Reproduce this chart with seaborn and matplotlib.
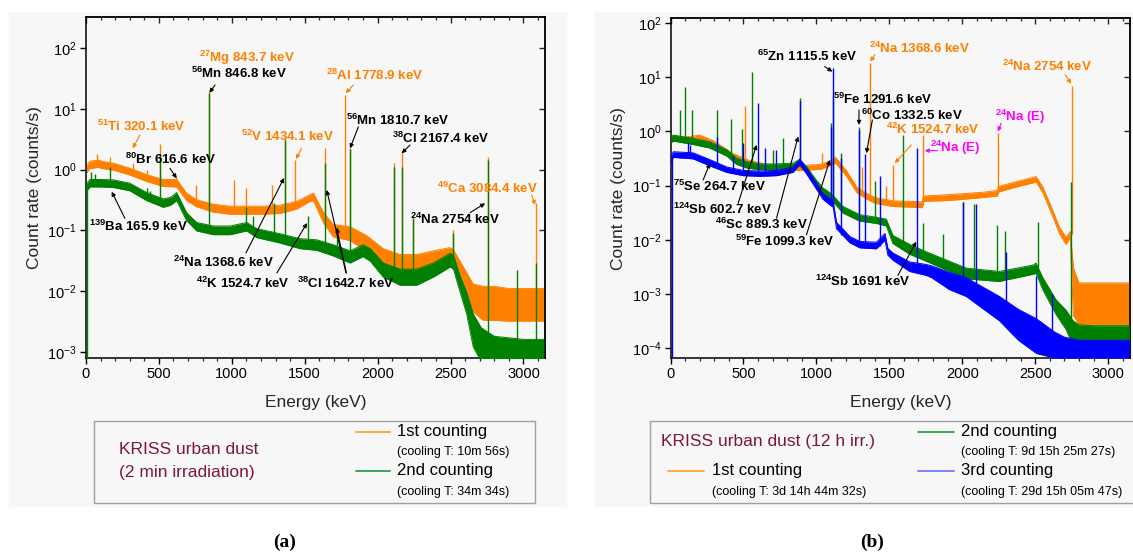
import numpy as np
import matplotlib
matplotlib.use("Agg")
import matplotlib.pyplot as plt
from matplotlib.ticker import MultipleLocator, LogLocator, NullLocator, NullFormatter
from matplotlib.patches import Rectangle
from matplotlib.lines import Line2D
import seaborn as sns

sns.set_theme(style="ticks")
plt.rcParams["font.family"] = ["Liberation Sans", "DejaVu Sans"]
plt.rcParams["mathtext.fontset"] = "custom"
plt.rcParams["mathtext.rm"] = "Liberation Sans"
plt.rcParams["mathtext.bf"] = "Liberation Sans:bold"
plt.rcParams["mathtext.it"] = "Liberation Sans:italic"

ORANGE = "#ff8000"
GREEN = "#008000"
BLUE = "#0000ff"
MAGENTA = "#ff00ff"
MAROON = "#7f1640"

# ----------------------------------------------------------------------
# (a) 2 min irradiation — continuum envelopes (lo / hi) and peaks
# ----------------------------------------------------------------------
E_a1 = [3, 25, 80, 150, 190, 300, 416, 530, 622, 690, 759, 873, 988, 1102, 1216, 1331,
        1445, 1536, 1560, 1627, 1696, 1811, 1925, 2039, 2154, 2268, 2382, 2497, 2520,
        2565, 2656, 2725, 2800, 2900, 3000, 3100, 3140]
lo_a1 = [0.88, 1.04, 1.09, 1.01, 0.98, 0.82, 0.64, 0.53, 0.52, 0.31, 0.245, 0.2, 0.185,
         0.185, 0.185, 0.19, 0.225, 0.3, 0.31, 0.135, 0.078, 0.068, 0.045, 0.027, 0.02,
         0.02, 0.022, 0.026, 0.025, 0.0125, 0.0045, 0.0033, 0.0033, 0.0032, 0.0032,
         0.0032, 0.0032]
hi_a1 = [1.15, 1.38, 1.43, 1.32, 1.28, 1.06, 0.83, 0.69, 0.69, 0.41, 0.32, 0.27, 0.25,
         0.25, 0.25, 0.26, 0.3, 0.39, 0.41, 0.2, 0.125, 0.115, 0.082, 0.05, 0.04, 0.04,
         0.046, 0.052, 0.048, 0.031, 0.013, 0.012, 0.012, 0.011, 0.011, 0.011, 0.011]

E_a2 = [3, 27, 100, 187, 300, 416, 530, 580, 622, 690, 759, 873, 988, 1102, 1171, 1331,
        1468, 1582, 1696, 1811, 1900, 1950, 2039, 2154, 2268, 2382, 2497, 2520, 2565,
        2611, 2656, 2710, 2800, 2900, 3000, 3100, 3140]
lo_a2 = [0.44, 0.52, 0.52, 0.51, 0.45, 0.31, 0.24, 0.26, 0.31, 0.145, 0.098, 0.085,
         0.085, 0.098, 0.076, 0.062, 0.05, 0.047, 0.038, 0.029, 0.037, 0.031, 0.017,
         0.0125, 0.0125, 0.017, 0.025, 0.023, 0.0098, 0.0042, 0.0012, 0.0007, 0.0007,
         0.0007, 0.0007, 0.0007, 0.0007]
hi_a2 = [0.58, 0.69, 0.69, 0.68, 0.6, 0.42, 0.33, 0.35, 0.42, 0.195, 0.135, 0.118, 0.118,
         0.135, 0.107, 0.088, 0.073, 0.07, 0.058, 0.046, 0.058, 0.05, 0.029, 0.023, 0.023,
         0.029, 0.042, 0.039, 0.018, 0.0095, 0.0042, 0.0025, 0.0018, 0.0017, 0.0016,
         0.0016, 0.0016]

pk_a1_E = [73, 166, 320, 416, 510, 616, 756, 844, 1014, 1100, 1273, 1368, 1434, 1642,
           1779, 1811, 2113, 2167, 2240, 2520, 2754, 3084]
pk_a1_top = [1.8, 1.6, 1.3, 1.0, 2.7, 0.75, 0.55, 19, 0.68, 0.5, 0.56, 3.6, 1.43, 2.25,
             17, 2.3, 1.3, 1.98, 0.18, 0.1, 1.6, 0.28]
pk_a1_base = [1.25, 1.15, 0.93, 0.72, 0.62, 0.6, 0.28, 0.23, 0.215, 0.215, 0.215, 0.22,
              0.26, 0.15, 0.09, 0.089, 0.03, 0.029, 0.029, 0.035, 0.0065, 0.006]

pk_a2_E = [6, 33, 60, 166, 416, 440, 510, 844, 1100, 1148, 1291, 1368, 1525, 1642, 1719,
           1811, 2113, 2167, 2240, 2520, 2754, 2958, 3084]
pk_a2_top = [0.6, 0.9, 0.85, 1.12, 0.5, 0.45, 1.75, 18, 0.24, 0.17, 0.28, 3.1, 0.17,
             1.27, 0.115, 2.2, 1.1, 1.12, 0.16, 0.09, 1.45, 0.0225, 0.029]
pk_a2_base = [0.0008, 0.6, 0.6, 0.59, 0.36, 0.33, 0.28, 0.10, 0.115, 0.1, 0.075, 0.074,
              0.06, 0.05, 0.045, 0.037, 0.0173, 0.0173, 0.017, 0.03, 0.0012, 0.0012, 0.0012]

# ----------------------------------------------------------------------
# (b) 12 h irradiation
# ----------------------------------------------------------------------
E_b1 = [3, 25, 98, 200, 295, 418, 541, 664, 787, 910, 1033, 1100, 1131, 1205, 1279, 1352,
        1402, 1525, 1648, 1725, 1735, 1913, 2141, 2240, 2250, 2370, 2507, 2552, 2620,
        2666, 2712, 2740, 2762, 2800, 2900, 3000, 3100, 3145]
lo_b1 = [0.62, 0.66, 0.63, 0.68, 0.54, 0.32, 0.235, 0.2, 0.19, 0.19, 0.2, 0.235, 0.26,
         0.15, 0.073, 0.055, 0.047, 0.041, 0.04, 0.039, 0.051, 0.053, 0.06, 0.064, 0.076,
         0.094, 0.116, 0.074, 0.027, 0.013, 0.0082, 0.011, 0.0004, 0.00027, 0.00027,
         0.00027, 0.00027, 0.00027]
hi_b1 = [0.78, 0.83, 0.78, 0.85, 0.67, 0.4, 0.29, 0.245, 0.235, 0.235, 0.245, 0.29, 0.33,
         0.19, 0.092, 0.07, 0.06, 0.052, 0.051, 0.05, 0.064, 0.068, 0.075, 0.081, 0.096,
         0.118, 0.146, 0.094, 0.035, 0.017, 0.011, 0.0142, 0.003, 0.0016, 0.0016, 0.0016,
         0.0016, 0.0016]

E_b2 = [3, 19, 156, 270, 385, 453, 522, 613, 727, 841, 886, 932, 1000, 1045, 1092, 1120,
        1183, 1297, 1411, 1479, 1525, 1639, 1753, 1913, 2027, 2255, 2483, 2506, 2552,
        2643, 2712, 2760, 2800, 2900, 3000, 3100, 3145]
lo_b2 = [0.62, 0.66, 0.57, 0.49, 0.35, 0.245, 0.21, 0.195, 0.195, 0.2, 0.23, 0.172,
         0.097, 0.068, 0.057, 0.048, 0.031, 0.022, 0.02, 0.018, 0.0085, 0.0054, 0.004,
         0.0026, 0.0019, 0.0017, 0.0023, 0.0024, 0.0012, 0.00042, 0.00022, 0.00011,
         0.0001, 0.0001, 0.0001, 0.0001, 0.0001]
hi_b2 = [0.8, 0.85, 0.74, 0.64, 0.46, 0.32, 0.275, 0.25, 0.25, 0.26, 0.3, 0.225, 0.125,
         0.09, 0.074, 0.063, 0.041, 0.029, 0.026, 0.024, 0.012, 0.0082, 0.006, 0.004,
         0.003, 0.0026, 0.0034, 0.0037, 0.002, 0.00078, 0.0005, 0.00032, 0.00027,
         0.00026, 0.00026, 0.00026, 0.00026]

E_b3 = [3, 19, 156, 270, 385, 498, 613, 727, 841, 886, 932, 1000, 1045, 1092, 1115, 1138,
        1229, 1297, 1411, 1470, 1490, 1525, 1639, 1753, 1790, 1913, 2027, 2255, 2385,
        2508, 2631, 2700, 2800, 2900, 3000, 3100, 3145]
lo_b3 = [0.26, 0.33, 0.31, 0.23, 0.175, 0.152, 0.148, 0.152, 0.175, 0.25, 0.165, 0.086,
         0.056, 0.044, 0.04, 0.016, 0.0088, 0.0071, 0.0068, 0.0098, 0.0052, 0.0042,
         0.0026, 0.0022, 0.002, 0.0012, 0.0009, 0.00032, 0.00014, 0.00008, 0.000066,
         0.000066, 0.000066, 0.000066, 0.000066, 0.000066, 0.000066]
hi_b3 = [0.34, 0.42, 0.4, 0.3, 0.22, 0.19, 0.185, 0.19, 0.22, 0.31, 0.21, 0.11, 0.071,
         0.057, 0.051, 0.021, 0.0115, 0.0093, 0.009, 0.013, 0.0069, 0.0057, 0.0039,
         0.0035, 0.0033, 0.0025, 0.002, 0.0009, 0.00052, 0.00035, 0.0002, 0.00016,
         0.00014, 0.00014, 0.00014, 0.00014, 0.00014]

pk_b1_E = [511, 1040, 1316, 1368, 1475, 1525, 1732, 2243, 2754]
pk_b1_top = [2.9, 0.39, 0.22, 18.5, 0.1, 0.24, 0.85, 0.93, 6.8]
pk_b1_base = [0.28, 0.22, 0.075, 0.062, 0.05, 0.046, 0.044, 0.072, 0.0125]

pk_b2_E = [66, 99, 148, 320, 413, 487, 562, 704, 772, 886, 1099, 1115, 1172, 1292, 1400,
           1593, 1731, 1867, 2004, 2084, 2239, 2290, 2518, 2746]
pk_b2_top = [2.5, 6.7, 2.5, 2.5, 1.7, 1.1, 12.6, 0.45, 0.74, 4.1, 1.4, 4.5, 0.4, 1.22,
             0.12, 0.85, 0.02, 0.013, 0.05, 0.045, 0.0188, 0.0145, 0.021, 0.117]
pk_b2_base = [0.72, 0.7, 0.65, 0.55, 0.36, 0.25, 0.23, 0.22, 0.22, 0.26, 0.065, 0.06,
              0.036, 0.025, 0.023, 0.009, 0.0055, 0.004, 0.0024, 0.0023, 0.0021, 0.0021,
              0.003, 0.0003]

pk_b3_E = [8, 122, 136, 316, 430, 500, 602, 646, 723, 889, 1099, 1115, 1172, 1292, 1332,
           1436, 1691, 2004, 2091, 2299, 2508, 2614]
pk_b3_top = [0.37, 0.6, 0.55, 0.8, 0.35, 0.6, 3.3, 0.5, 0.45, 3.6, 1.2, 15, 0.32, 1.06,
             0.38, 0.15, 0.5, 0.05, 0.045, 0.006, 0.0021, 0.001]
pk_b3_base = [6.6e-5, 0.35, 0.34, 0.25, 0.19, 0.17, 0.165, 0.165, 0.17, 0.26, 0.05, 0.045,
              0.012, 0.0081, 0.008, 0.0078, 0.0029, 0.0013, 0.0011, 0.0005, 0.00018, 0.0001]

# ----------------------------------------------------------------------
W, H = 1133, 553
fig = plt.figure(figsize=(W / 100, H / 100), dpi=100)


def fx(x):
    return x / W


def fy(y):
    return 1 - y / H


# grey panel backgrounds
fig.add_artist(Rectangle((fx(9), fy(506)), fx(566) - fx(9), fy(12) - fy(506),
                         transform=fig.transFigure, color="#f7f7f7", zorder=0))
fig.add_artist(Rectangle((fx(594), fy(506)), fx(1133) - fx(594), fy(12) - fy(506),
                         transform=fig.transFigure, color="#f7f7f7", zorder=0))

ax_a = fig.add_axes([fx(86), fy(358), fx(545.3) - fx(86), fy(17.3) - fy(358)])
ax_b = fig.add_axes([fx(670.5), fy(358.3), fx(1130) - fx(670.5), fy(18) - fy(358.3)])


def band(ax, E, lo, hi, color, z):
    ax.fill_between(E, lo, hi, color=color, lw=0, zorder=z)
    sns.lineplot(x=E, y=lo, ax=ax, color=color, lw=0.7, estimator=None, sort=False,
                 legend=False, zorder=z)
    sns.lineplot(x=E, y=hi, ax=ax, color=color, lw=0.7, estimator=None, sort=False,
                 legend=False, zorder=z)


def peaks(ax, E, base, top, color, z):
    ax.vlines(E, base, top, color=color, lw=1.0, zorder=z)


def style(ax, ylim):
    ax.set_facecolor("none")
    ax.set_yscale("log")
    ax.set_xlim(0, 3150)
    ax.set_ylim(*ylim)
    ax.xaxis.set_major_locator(MultipleLocator(500))
    ax.xaxis.set_minor_locator(MultipleLocator(100))
    ax.yaxis.set_major_locator(LogLocator(base=10, numticks=12))
    ax.yaxis.set_minor_locator(NullLocator())
    ax.tick_params(which="major", direction="out", length=4.5, width=1.0,
                   labelsize=10.5, pad=2, colors="black")
    ax.tick_params(which="minor", direction="out", length=2.5, width=0.9)
    for s in ax.spines.values():
        s.set_visible(True)
        s.set_color("black")
        s.set_linewidth(1.1)
    top = ax.secondary_xaxis("top")
    top.xaxis.set_major_locator(MultipleLocator(500))
    top.xaxis.set_minor_locator(MultipleLocator(100))
    top.tick_params(which="major", direction="in", length=4.5, width=1.0, labeltop=False)
    top.tick_params(which="minor", direction="in", length=2.5, width=0.9)
    top.spines["top"].set_linewidth(1.1)
    right = ax.secondary_yaxis("right")
    right.yaxis.set_major_locator(LogLocator(base=10, numticks=12))
    right.yaxis.set_minor_locator(NullLocator())
    right.yaxis.set_major_formatter(NullFormatter())
    right.tick_params(which="major", direction="in", length=4.5, width=1.0, labelright=False)
    right.spines["right"].set_linewidth(1.1)
    ax.set_xlabel("Energy (keV)", fontsize=12.5, labelpad=10)
    ax.set_ylabel("Count rate (counts/s)", fontsize=12.5, labelpad=4)


# panel (a)
band(ax_a, E_a1, lo_a1, hi_a1, ORANGE, 2)
peaks(ax_a, pk_a1_E, pk_a1_base, pk_a1_top, ORANGE, 2.1)
band(ax_a, E_a2, lo_a2, hi_a2, GREEN, 3)
peaks(ax_a, pk_a2_E, pk_a2_base, pk_a2_top, GREEN, 3.1)
style(ax_a, (7.9e-4, 324))

# panel (b)
band(ax_b, E_b1, lo_b1, hi_b1, ORANGE, 2)
peaks(ax_b, pk_b1_E, pk_b1_base, pk_b1_top, ORANGE, 2.1)
band(ax_b, E_b2, lo_b2, hi_b2, GREEN, 3)
peaks(ax_b, pk_b2_E, pk_b2_base, pk_b2_top, GREEN, 3.1)
band(ax_b, E_b3, lo_b3, hi_b3, BLUE, 4)
peaks(ax_b, pk_b3_E, pk_b3_base, pk_b3_top, BLUE, 4.1)
style(ax_b, (6.5e-5, 123))


# ----------------------------------------------------------------------
# peak labels: (axis, text, colour, text centre, arrow tail, arrow head)
# ----------------------------------------------------------------------
def lab(iso, rest):
    return r"$^{\mathbf{" + iso + "}}$" + rest


notes = [
    (ax_a, lab("27", "Mg 843.7 keV"), ORANGE, (1104, 70), None, None),
    (ax_a, lab("56", "Mn 846.8 keV"), "black", (1049, 38), (885, 24.8), (846, 18.5)),
    (ax_a, lab("28", "Al 1778.9 keV"), ORANGE, (1982, 36), (1833, 24.8), (1781, 18.2)),
    (ax_a, lab("56", "Mn 1810.7 keV"), "black", (2140, 6.6), (1868, 5.1), (1811, 2.25)),
    (ax_a, lab("38", "Cl 2167.4 keV"), "black", (2435, 3.3), (2222, 2.55), (2165, 1.86)),
    (ax_a, lab("49", "Ca 3084.4 keV"), ORANGE, (2757, 0.5), (3057, 0.383), (3080, 0.262)),
    (ax_a, lab("24", "Na 2754 keV"), "black", (2531, 0.154), (2634, 0.196), (2737, 0.279)),
    (ax_a, lab("51", "Ti 320.1 keV"), ORANGE, (377, 5.1), (370, 3.73), (320, 2.25)),
    (ax_a, lab("80", "Br 616.6 keV"), "black", (583, 1.45), (576, 1.05), (622, 0.72)),
    (ax_a, lab("52", "V 1434.1 keV"), ORANGE, (1385, 3.59), (1479, 2.25), (1440, 1.5)),
    (ax_a, lab("139", "Ba 165.9 keV"), "black", (357, 0.115), (267, 0.158), (176, 0.434)),
    (ax_a, lab("24", "Na 1368.6 keV"), "black", (940, 0.030), (1097, 0.0425), (1358, 0.73)),
    (ax_a, lab("42", "K 1524.7 keV"), "black", (1073, 0.0136), (1309, 0.0199), (1516, 0.132)),
    (ax_a, lab("38", "Cl 1642.7 keV"), "black", (1780, 0.0136), (1783, 0.0199), (1651, 0.463)),
    (ax_a, "", "black", (1780, 0.0136), (1786, 0.0199), (1719, 0.11)),
    (ax_b, lab("65", "Zn 1115.5 keV"), "black", (934, 23.9), (1057, 15.6), (1110, 12.6)),
    (ax_b, lab("24", "Na 1368.6 keV"), ORANGE, (1704, 34), (1400, 25.7), (1370, 19.3)),
    (ax_b, lab("59", "Fe 1291.6 keV"), "black", (1454, 3.9), (1292, 2.48), (1292, 1.31)),
    (ax_b, lab("60", "Co 1332.5 keV"), "black", (1652, 2.0), (1384, 1.62), (1343, 0.394)),
    (ax_b, lab("42", "K 1524.7 keV"), ORANGE, (1800, 1.09), (1651, 0.561), (1537, 0.258)),
    (ax_b, lab("24", "Na (E)"), MAGENTA, (1954, 0.488), (1831, 0.44), (1742, 0.44)),
    (ax_b, lab("24", "Na (E)"), MAGENTA, (2396, 1.82), (2267, 1.41), (2244, 0.986)),
    (ax_b, lab("24", "Na 2754 keV"), ORANGE, (2584, 15.6), (2707, 11), (2746, 7.5)),
    (ax_b, lab("75", "Se 264.7 keV"), "black", (339, 0.0955), (224, 0.127), (270, 0.258)),
    (ax_b, lab("124", "Sb 602.7 keV"), "black", (356, 0.0355), (464, 0.047), (590, 0.561)),
    (ax_b, lab("46", "Sc 889.3 keV"), "black", (624, 0.0188), (727, 0.025), (875, 0.8)),
    (ax_b, lab("59", "Fe 1099.3 keV"), "black", (782, 0.0092), (932, 0.0123), (1092, 0.296)),
    (ax_b, lab("124", "Sb 1691 keV"), "black", (1318, 0.0017), (1559, 0.0022), (1685, 0.0092)),
]

for ax, txt, col, pos, tail, head in notes:
    if txt:
        ax.text(pos[0], pos[1], txt, color=col, fontsize=9.5, fontweight="bold",
                ha="center", va="center", zorder=6)
    if tail is not None:
        ax.annotate("", xy=head, xytext=tail,
                    arrowprops=dict(arrowstyle="-|>", color=col, lw=0.8,
                                    mutation_scale=6, shrinkA=0, shrinkB=0),
                    zorder=6)

# ----------------------------------------------------------------------
# legend boxes
# ----------------------------------------------------------------------
fig.add_artist(Rectangle((fx(94), fy(502.7)), fx(535) - fx(94), fy(420.7) - fy(502.7),
                         transform=fig.transFigure, facecolor="none",
                         edgecolor="#a0a0a0", lw=1.0))
fig.add_artist(Rectangle((fx(650), fy(502.7)), fx(1140) - fx(650), fy(420.7) - fy(502.7),
                         transform=fig.transFigure, facecolor="none",
                         edgecolor="#a0a0a0", lw=1.0))


def leg_line(x0, x1, y, color):
    fig.add_artist(Line2D([fx(x0), fx(x1)], [fy(y), fy(y)], transform=fig.transFigure,
                          color=color, lw=1.4))


def ftext(x, y, s, size, color="black", ha="left", **kw):
    fig.text(fx(x), fy(y), s, fontsize=size, color=color, ha=ha, va="center", **kw)


ftext(119, 450, "KRISS urban dust", 12.5, MAROON)
ftext(119, 472, "(2 min irradiation)", 12.5, MAROON)
leg_line(356, 390, 431.7, "#ffaa44")
ftext(397, 431.7, "1st counting", 12)
ftext(397, 451.7, "(cooling T: 10m 56s)", 9)
leg_line(356, 390, 471, "#3aa655")
ftext(397, 471, "2nd counting", 12)
ftext(397, 491.7, "(cooling T: 34m 34s)", 9)

ftext(661, 441.7, "KRISS urban dust (12 h irr.)", 12.5, MAROON)
leg_line(917.6, 953.7, 431.7, "#3aa655")
ftext(961, 431.7, "2nd counting", 12)
ftext(961, 451.7, "(cooling T: 9d 15h 25m 27s)", 9)
leg_line(668, 704, 471, "#ffaa44")
ftext(712, 471, "1st counting", 12)
ftext(712, 491.7, "(cooling T: 3d 14h 44m 32s)", 9)
leg_line(917.6, 953.7, 471, "#8080ff")
ftext(961, 471, "3rd counting", 12)
ftext(961, 491.7, "(cooling T: 29d 15h 05m 47s)", 9)

ftext(285, 542, "(a)", 14, ha="center", family=["Liberation Serif"], fontweight="bold")
ftext(872, 542, "(b)", 14, ha="center", family=["Liberation Serif"], fontweight="bold")

fig.savefig("out.png", dpi=100, facecolor="white")
